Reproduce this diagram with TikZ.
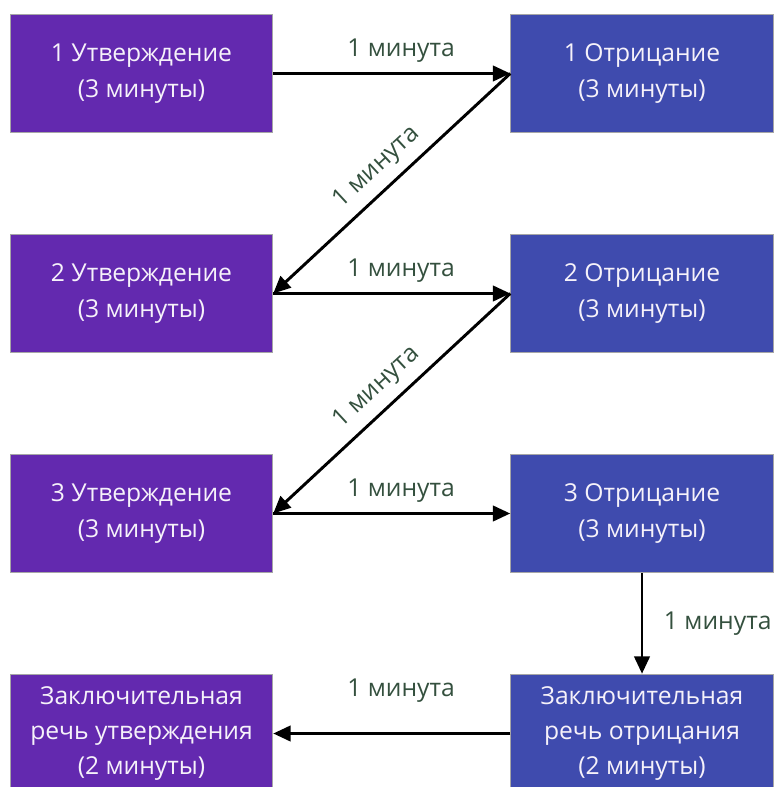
\documentclass[tikz,border=0pt]{standalone}
\usepackage{fontspec}
\setmainfont{Open Sans}
\usepackage{xcolor}
\usetikzlibrary{arrows.meta}

\definecolor{affcolor}{HTML}{6329AF}
\definecolor{negcolor}{HTML}{3F4BAE}
\definecolor{timecolor}{HTML}{34503E}

\tikzset{
    speechbox/.style={draw=gray!70, line width=0.6pt, text=white!94!affcolor, align=center,
        minimum width=197pt, minimum height=89pt, inner sep=0pt,
        font=\fontsize{18.5}{26.5}\selectfont},
    affbox/.style={speechbox, fill=affcolor},
    negbox/.style={speechbox, fill=negcolor},
    flow/.style={line width=2.2pt, -{Triangle[length=13pt,width=11.5pt]}},
    timelabel/.style={text=timecolor, font=\fontsize{18.5}{20}\selectfont}
}

\begin{document}
\begin{tikzpicture}[x=0.75pt,y=-0.75pt]
    \useasboundingbox (0,0) rectangle (773,787);
    \foreach \n/\y in {1/73.5, 2/293.5, 3/513.5} {
        % Affirmative speech on the left
        \node[affbox] (aff\n) at (141.5,\y) {\n~Утверждение\\(3 минуты)};
        % Negative speech on the right
        \node[negbox] (neg\n) at (642,\y) {\n~Отрицание\\(3 минуты)};
        % Time between them
        \draw[flow] (aff\n.east) -- node[timelabel, above=4pt, xshift=7pt] {1 минута} (neg\n.west);
    }
    % Closing speeches
    \node[affbox] (affend) at (141.5,733.5) {Заключительная\\речь утверждения\\(2 минуты)};
    \node[negbox] (negend) at (642,733.5) {Заключительная\\речь отрицания\\(2 минуты)};
    % Back from negative to the next affirmative
    \draw[flow] (neg1.west) -- node[timelabel, sloped, above=3pt] {1 минута} (aff2.east);
    \draw[flow] (neg2.west) -- node[timelabel, sloped, above=3pt] {1 минута} (aff3.east);
    \draw[flow] (neg3.south) -- node[timelabel, right=12pt] {1 минута} (negend.north);
    \draw[flow] (negend.west) -- node[timelabel, above=19pt, xshift=7pt] {1 минута} (affend.east);
\end{tikzpicture}
\end{document}
